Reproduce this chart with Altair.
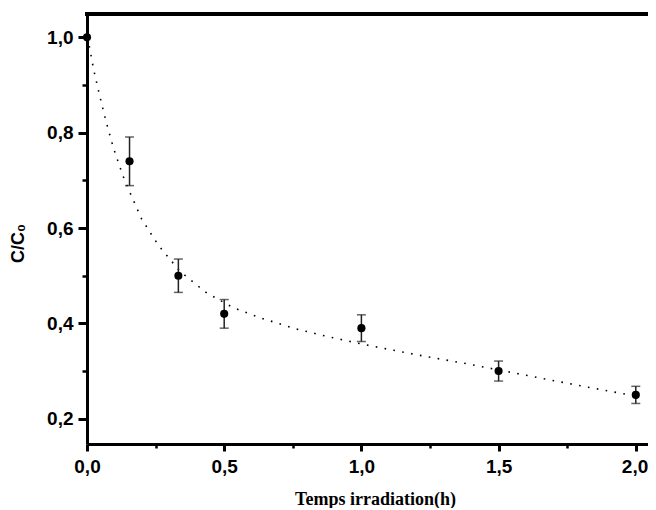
import altair as alt
import pandas as pd

# measured points
time_h = [0.0, 0.155, 0.333, 0.5, 1.0, 1.5, 2.0]
ratio = [1.0, 0.74, 0.50, 0.42, 0.39, 0.30, 0.25]
err = [0.0, 0.051, 0.035, 0.03, 0.028, 0.021, 0.018]

# fitted dotted curve
fit_x = [0.0, 0.006, 0.024, 0.046, 0.070, 0.097, 0.130, 0.157, 0.199, 0.260, 0.339,
         0.436, 0.533, 0.630, 0.757, 0.887, 1.016, 1.113, 1.240, 1.369, 1.530,
         1.691, 1.818, 1.949, 2.0]
fit_y = [1.0, 0.989, 0.933, 0.878, 0.822, 0.767, 0.711, 0.674, 0.619, 0.564, 0.509,
         0.464, 0.433, 0.412, 0.389, 0.371, 0.355, 0.344, 0.330, 0.317, 0.299,
         0.281, 0.267, 0.253, 0.248]

x_ticks = [0.0, 0.25, 0.5, 0.75, 1.0, 1.25, 1.5, 1.75, 2.0]
y_ticks = [0.2, 0.3, 0.4, 0.5, 0.6, 0.7, 0.8, 0.9, 1.0]

pts = pd.DataFrame({"t": time_h, "r": ratio, "e": err})
pts["lo"] = pts["r"] - pts["e"]
pts["hi"] = pts["r"] + pts["e"]
errd = pts[pts["e"] > 0]
fit = pd.DataFrame({"t": fit_x, "r": fit_y})

LF = "Liberation Sans"
W, H = 561, 430

xscale = alt.Scale(domain=[0, 2.0445], nice=False, zero=False)
yscale = alt.Scale(domain=[0.147, 1.049], nice=False, zero=False)

x_axis = alt.Axis(
    values=x_ticks,
    labelExpr="round(datum.value*4) % 2 == 0 ? replace(format(datum.value, '.1f'), '.', ',') : ''",
    tickSize={"condition": {"test": "round(datum.value*4) % 2 == 0", "value": 7}, "value": 4},
    tickWidth={"condition": {"test": "round(datum.value*4) % 2 == 0", "value": 3}, "value": 2.5},
    labelAlign={"condition": {"test": "datum.value > 1.9", "value": "right"}, "value": "center"},
    labelOffset={"condition": {"test": "datum.value > 1.9", "value": 12}, "value": 0},
    tickColor="black", domainColor="black", domainWidth=3,
    labelFont=LF, labelFontWeight="bold", labelFontSize=19, labelColor="black",
    labelPadding=6, grid=False, labelFlush=False, labelOverlap=False,
    title="Temps irradiation(h)", titleFont="Liberation Serif", titleFontWeight="bold",
    titleFontSize=18, titleColor="black",
    titleX=288, titleY=60, titleAlign="center", titleBaseline="alphabetic",
)
y_axis = alt.Axis(
    values=y_ticks,
    labelExpr="round(datum.value*10) % 2 == 0 ? replace(format(datum.value, '.1f'), '.', ',') : ''",
    tickSize={"condition": {"test": "round(datum.value*10) % 2 == 0", "value": 9}, "value": 5},
    tickWidth={"condition": {"test": "round(datum.value*10) % 2 == 0", "value": 3}, "value": 2.5},
    tickColor="black", domainColor="black", domainWidth=3,
    labelFont=LF, labelFontWeight="bold", labelFontSize=19, labelColor="black",
    labelPadding=5, grid=False, labelFlush=False, labelOverlap=False,
    title="C/C₀", titleFont=LF, titleFontWeight="bold", titleFontSize=18,
    titleColor="black", titleAngle=270, titleX=-69, titleY=229,
    titleAlign="center", titleBaseline="middle",
)

curve = alt.Chart(fit).mark_line(
    color="black", strokeWidth=1.6, strokeDash=[1.6, 7.4], strokeCap="butt"
).encode(
    x=alt.X("t:Q", scale=xscale, axis=x_axis),
    y=alt.Y("r:Q", scale=yscale, axis=y_axis),
)

# top frame line
top_frame = alt.Chart(fit).mark_rule(color="black", strokeWidth=3).encode(
    x=alt.value(-1.5), x2=alt.value(W), y=alt.value(0)
)

bars = alt.Chart(errd).mark_rule(color="#222222", strokeWidth=1.5).encode(
    x="t:Q", y="lo:Q", y2="hi:Q"
)
cap_lo = alt.Chart(errd).mark_tick(
    orient="horizontal", color="#222222", thickness=1.5, size=9
).encode(x="t:Q", y="lo:Q")
cap_hi = alt.Chart(errd).mark_tick(
    orient="horizontal", color="#222222", thickness=1.5, size=9
).encode(x="t:Q", y="hi:Q")

dots = alt.Chart(pts).mark_circle(color="black", opacity=1, size=66).encode(
    x="t:Q", y="r:Q"
)

chart = alt.layer(curve, top_frame, bars, cap_lo, cap_hi, dots).properties(
    width=W, height=H,
    autosize=alt.AutoSizeParams(type="none"),
    padding={"left": 79, "top": 6, "right": 0, "bottom": 64},
).configure_view(stroke=None).configure(background="white")

chart.save("out.html", embed_options={"renderer": "svg", "actions": False})
